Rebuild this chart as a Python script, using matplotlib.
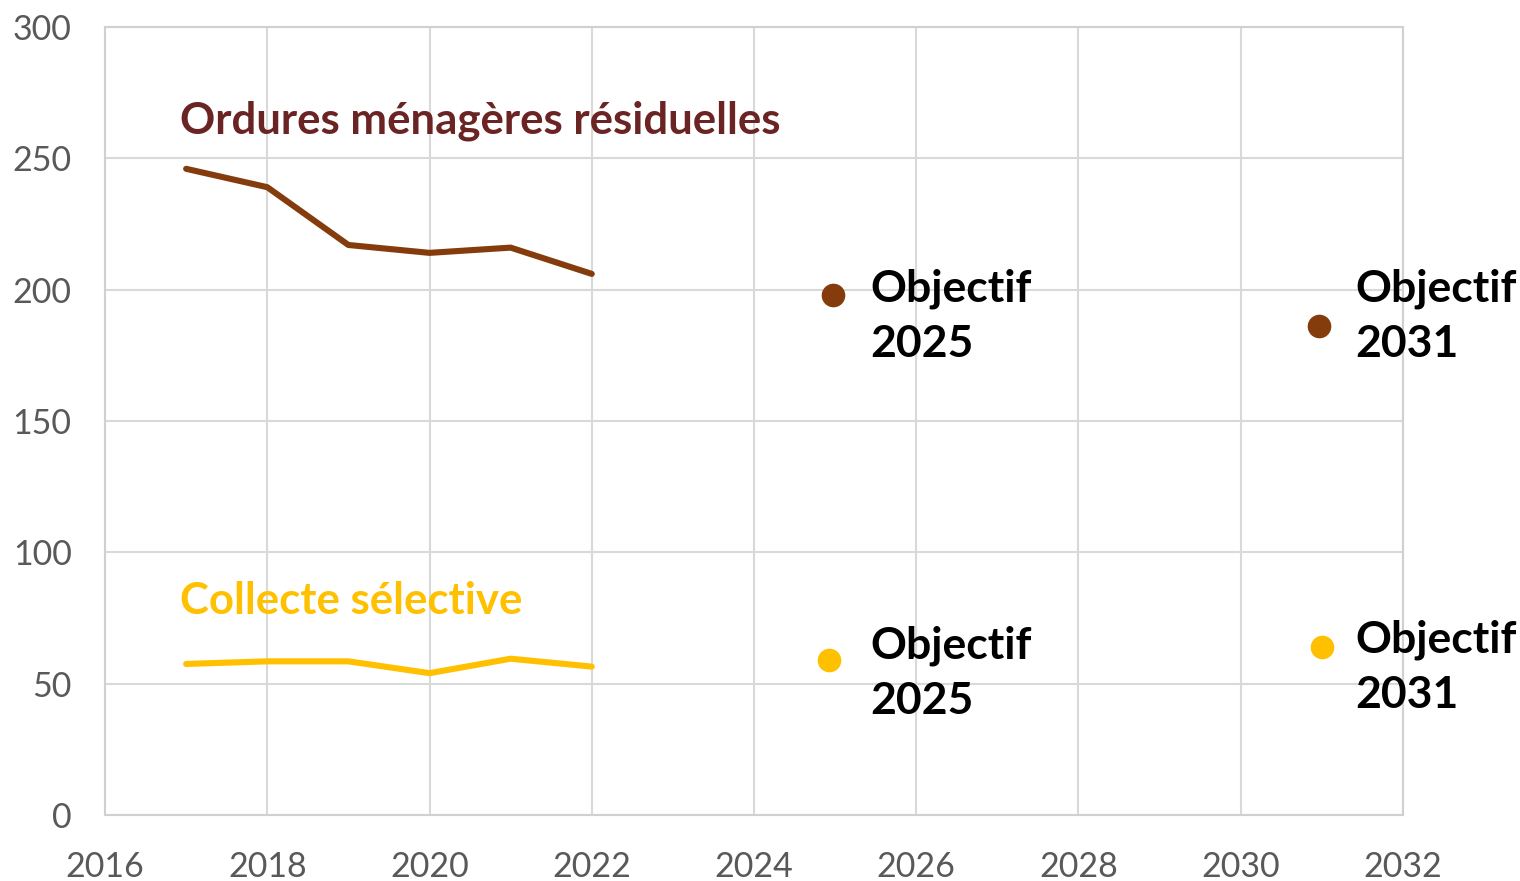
import matplotlib.pyplot as plt

# data
years = [2017, 2018, 2019, 2020, 2021, 2022]
omr = [246, 239, 217, 214, 216, 206]          # Ordures ménagères résiduelles
cs = [57.5, 58.5, 58.5, 54, 59.5, 56.5]       # Collecte sélective

target_years = [2025, 2031]
omr_targets = [198, 186]
cs_targets = [59, 64]

brown = "#843C0C"
gold = "#FFC000"
title_red = "#6B2424"

font = ["Lato", "DejaVu Sans"]

fig = plt.figure(figsize=(15.2, 8.81), dpi=100)
ax = fig.add_axes([0.0691, 0.0749, 0.8539, 0.8945])

ax.plot(years, omr, color=brown, lw=4.4, solid_capstyle="round", zorder=3)
ax.plot(years, cs, color=gold, lw=4.4, solid_capstyle="round", zorder=3)

ax.plot([2024.97, 2030.97], omr_targets, "o", color=brown, ms=16, zorder=3)
ax.plot([2024.92, 2031.0], cs_targets, "o", color=gold, ms=16, zorder=3)

for x, y, yr in [(2025.43, 208, 2025), (2031.41, 208, 2031),
                 (2025.43, 72, 2025), (2031.41, 74.5, 2031)]:
    ax.text(x, y, f"Objectif\n{yr}", ha="left", va="top", fontsize=32,
            fontweight="bold", family=font, color="black",
            linespacing=1.45, zorder=4)

ax.text(2016.93, 259.5, "Ordures ménagères résiduelles", ha="left",
        va="baseline", fontsize=31.5, fontweight="bold", family=font,
        color=title_red)
ax.text(2016.93, 76.5, "Collecte sélective", ha="left", va="baseline",
        fontsize=31.5, fontweight="bold", family=font, color=gold)

ax.set_xlim(2016, 2032)
ax.set_ylim(0, 300)
ax.set_xticks(range(2016, 2033, 2))
ax.set_yticks(range(0, 301, 50))
ax.grid(True, color="#d9d9d9", lw=1.5, zorder=0)
for s in ax.spines.values():
    s.set_color("#d0d0d0")
    s.set_linewidth(1.5)
ax.tick_params(length=0, colors="#595959", labelsize=24.5)
ax.tick_params(axis="x", pad=26)
ax.tick_params(axis="y", pad=24)
for lab in ax.get_xticklabels() + ax.get_yticklabels():
    lab.set_family(font)

fig.savefig("out.png", dpi=100)
